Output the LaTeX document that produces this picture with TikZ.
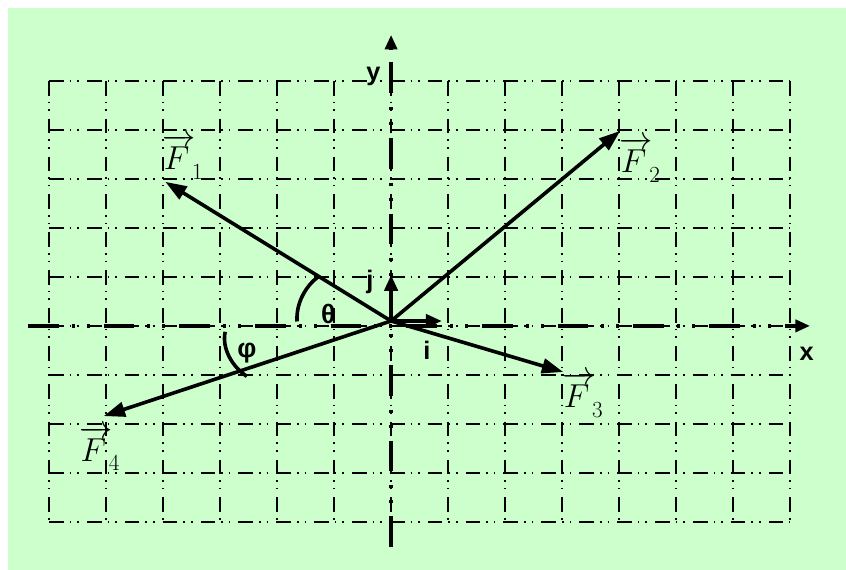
\documentclass[tikz,border=0pt]{standalone}
\usepackage{fontspec}
\setsansfont{Liberation Sans}
\usepackage{tikz}
\usetikzlibrary{arrows.meta}
\definecolor{bgG}{RGB}{204,255,204}
\tikzset{
  gridline/.style={line width=1.2pt,
    dash pattern=on 11pt off 4.5pt on 1.2pt off 4.5pt on 1.2pt off 6pt},
  axisline/.style={line width=2.8pt,
    dash pattern=on 23pt off 9.75pt on 2.25pt off 9pt on 2.25pt off 10.5pt,
    -{Triangle[length=11pt,width=9pt]}},
  force/.style={line width=2.7pt,-{Triangle[length=16pt,width=11pt]}},
  unitvec/.style={line width=2.7pt,-{Triangle[length=12pt,width=10pt]}},
  anglearc/.style={line width=2.7pt},
  veclab/.style={font=\fontsize{23}{26}\selectfont,inner sep=0pt},
  axlab/.style={font=\fontsize{19}{22}\selectfont\sffamily\bfseries,inner sep=0pt},
  greeklab/.style={font=\fontsize{20}{22}\selectfont\sffamily\bfseries,inner sep=0pt}
}
\newcommand{\forcelab}[1]{$\overrightarrow{\mathstrut F\,}_{\!#1}$}

\begin{document}
\begin{tikzpicture}[x=42.75pt,y=36.75pt]
  \useasboundingbox (-6.86,-4.98) rectangle (7.98,6.65);
  \fill[bgG] (-6.72,-4.98) rectangle (7.98,6.49);

  % grid
  \foreach \x in {-6,...,7}
    \draw[gridline] (\x,5) -- (\x,-4);
  \foreach \y in {-4,...,5}
    \draw[gridline] (-6,\y) -- (7,\y);

  % axes
  \coordinate (xs) at (-6.37,0);
  \coordinate (xe) at (7.35,0);
  \coordinate (ys) at (0,-4.51);
  \coordinate (ye) at (0,5.94);
  \draw[axisline] (xs) -- (xe);
  \draw[axisline] (ys) -- (ye);

  % forces
  \coordinate (O) at (0,0.1);
  \coordinate (f1) at (-3.96,2.94);
  \coordinate (f2) at (4.02,3.98);
  \coordinate (f3) at (3.02,-0.94);
  \coordinate (f4) at (-5.04,-1.84);
  \coordinate (ui) at (0.89,0.1);
  \coordinate (uj) at (0,1.04);
  \draw[force] (O) -- (f1);
  \draw[force] (O) -- (f2);
  \draw[force] (O) -- (f3);
  \draw[force] (O) -- (f4);
  \draw[unitvec] (O) -- (ui);
  \draw[unitvec] (O) -- (uj);

  % angles
  \draw[anglearc] (-1.65,0.09) .. controls (-1.67,0.5) and (-1.47,0.84) .. (-1.28,1.0);
  \draw[anglearc] (-2.91,-0.12) .. controls (-2.97,-0.45) and (-2.8,-0.82) .. (-2.53,-1.03);

  % labels
  \node[veclab] (lf1) at (-3.65,3.45) {\forcelab{1}};
  \node[veclab] (lf2) at (4.37,3.39) {\forcelab{2}};
  \node[veclab] (lf3) at (3.37,-1.40) {\forcelab{3}};
  \node[veclab] (lf4) at (-5.11,-2.50) {\forcelab{4}};
  \node[axlab] (lx) at (7.29,-0.56) {x};
  \node[axlab] (ly) at (-0.31,5.09) {y};
  \node[axlab] (li) at (0.63,-0.49) {i};
  \node[axlab] (lj) at (-0.37,0.90) {j};
  \node[greeklab] (lth) at (-1.10,0.24) {θ};
  \node[greeklab] (lph) at (-2.53,-0.56) {φ};
\end{tikzpicture}
\end{document}
